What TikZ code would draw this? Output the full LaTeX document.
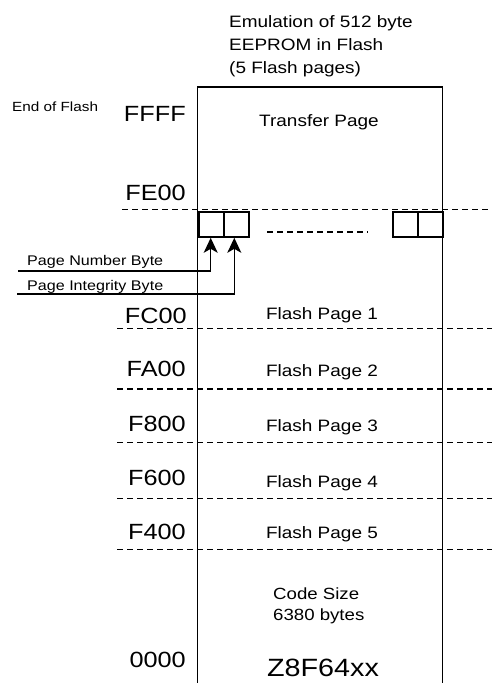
\documentclass[tikz,border=0pt]{standalone}
\usepackage{fontspec}
\setmainfont{Liberation Sans}[FakeStretch=1.15]
\usetikzlibrary{arrows.meta}
\begin{document}
\begin{tikzpicture}[x=1pt,y=-1pt,
  frame/.style={line width=1.5pt},
  divider/.style={line width=1.3pt,dash pattern=on 6pt off 4pt},
  cell/.style={draw,line width=1.8pt,minimum width=25pt,minimum height=25pt,inner sep=0pt,anchor=north west},
  addr/.style={anchor=base east,inner sep=0pt,font=\fontsize{22}{26}\selectfont},
  region/.style={anchor=base,inner sep=0pt,font=\fontsize{16.5}{20}\selectfont},
  titleline/.style={anchor=base west,inner sep=0pt,font=\fontsize{16.5}{20}\selectfont},
  small/.style={anchor=base west,inner sep=0pt,font=\fontsize{14}{17}\selectfont},
  pointer/.style={line width=1.3pt,-{Stealth[length=15pt,width=14pt,inset=4pt]}}]
\useasboundingbox (0,0) rectangle (492,683);
% frame
\coordinate (tl) at (197.5,87);
\coordinate (tr) at (442.5,87);
\coordinate (bl) at (197.5,683);
\coordinate (br) at (442.5,683);
\draw[frame] (bl) -- (tl) -- (tr) -- (br);
% title
\node[titleline] (t1) at (229,27.3) {Emulation of 512 byte};
\node[titleline] (t2) at (229,50.3) {EEPROM in Flash};
\node[titleline] (t3) at (229,73.3) {(5 Flash pages)};
% dashed dividers
\coordinate (d0l) at (122,209.7); \coordinate (d0r) at (492,209.7);
\coordinate (d1l) at (117,328.3); \coordinate (d1r) at (492,328.3);
\coordinate (d2l) at (117,389);   \coordinate (d2r) at (492,389);
\coordinate (d3l) at (117,442.7); \coordinate (d3r) at (492,442.7);
\coordinate (d4l) at (117,498.3); \coordinate (d4r) at (492,498.3);
\coordinate (d5l) at (117,549.3); \coordinate (d5r) at (492,549.3);
\foreach \i in {0,...,5}{\draw[divider] (d\i l) -- (d\i r);}
% addresses
\node[small,font=\fontsize{13.3}{16}\selectfont] (eof) at (12,111.5) {End of Flash};
\node[addr] (a0) at (186,121.7) {FFFF};
\node[addr] (a1) at (186,200) {FE00};
\node[addr] (a2) at (187,323) {FC00};
\node[addr] (a3) at (186,376.7) {FA00};
\node[addr] (a4) at (186,431.7) {F800};
\node[addr] (a5) at (186,485) {F600};
\node[addr] (a6) at (186,539.3) {F400};
\node[addr] (a7) at (186,667.7) {0000};
% region labels
\node[region] (tp) at (319,126.7) {Transfer Page};
\node[region] (p1) at (322,319) {Flash Page 1};
\node[region] (p2) at (322,376) {Flash Page 2};
\node[region] (p3) at (322,431.7) {Flash Page 3};
\node[region] (p4) at (322,487) {Flash Page 4};
\node[region] (p5) at (322,538) {Flash Page 5};
\node[titleline,font=\fontsize{16.2}{20}\selectfont] (cs1) at (273,599) {Code Size};
\node[titleline,font=\fontsize{16.2}{20}\selectfont] (cs2) at (273,620) {6380 bytes};
\node[region,font=\fontsize{25}{30}\selectfont] (chip) at (323,676) {Z8F64xx};
% byte cells
\node[cell] (c1) at (198.3,211) {};
\node[cell] (c2) at (223.3,211) {};
\node[cell] (c3) at (392,211) {};
\node[cell] (c4) at (417,211) {};
\coordinate (m1) at (267,232); \coordinate (m2) at (368,232);
\draw[divider] (m1) -- (m2);
% pointers
\node[small] (pnb) at (27,265) {Page Number Byte};
\node[small] (pib) at (27,290) {Page Integrity Byte};
\coordinate (s1) at (18,271); \coordinate (k1) at (210.7,271);
\coordinate (s2) at (17,294); \coordinate (k2) at (234.3,294);
\draw[pointer] (s1) -- (k1) -- (k1 |- c1.south);
\draw[pointer] (s2) -- (k2) -- (k2 |- c2.south);
\end{tikzpicture}
\end{document}
